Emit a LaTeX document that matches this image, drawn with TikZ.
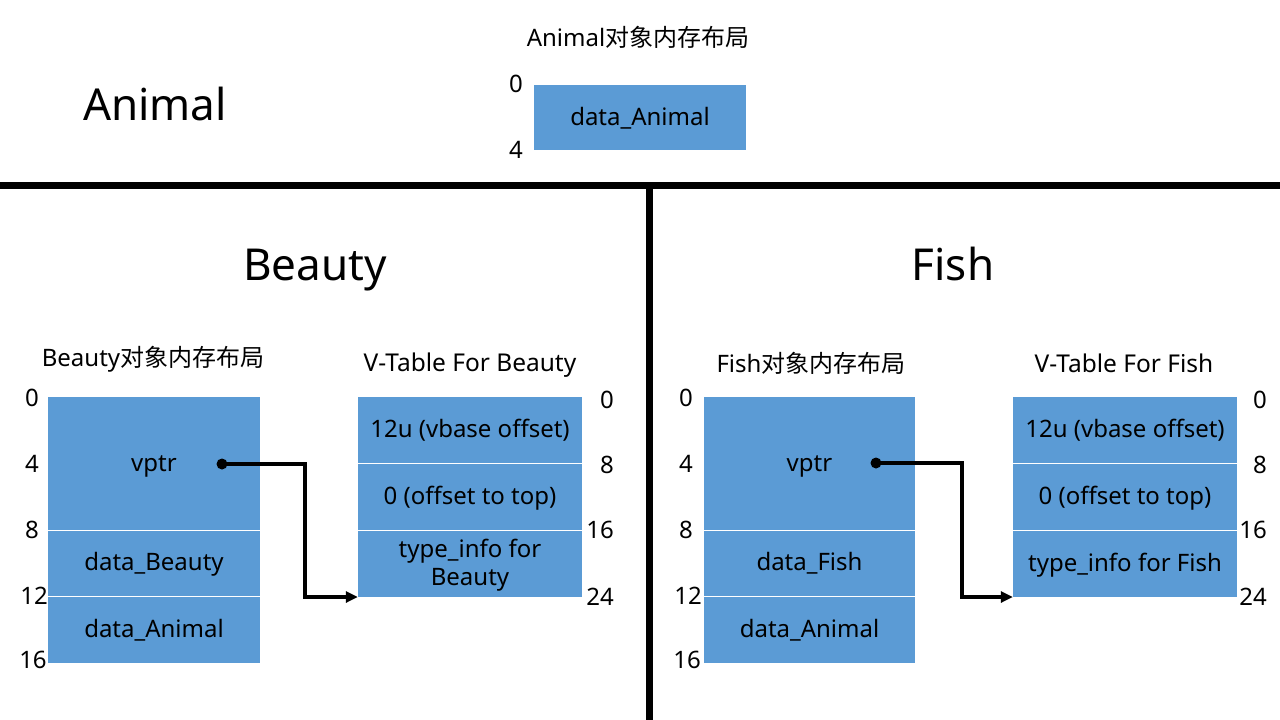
\documentclass[tikz,border=0pt]{standalone}
\usepackage{fontspec}
\setmainfont{Noto Sans}
\newfontfamily\cjk{Noto Sans CJK SC}
\usetikzlibrary{arrows.meta}
\definecolor{cellblue}{HTML}{5B9BD5}
\begin{document}
\begin{tikzpicture}[x=1pt,y=-1pt,
  cell/.style={fill=cellblue, inner sep=0pt, align=center, text height=17pt, text depth=2pt, font=\fontsize{24}{28}\selectfont},
  sep/.style={draw=white, line width=1.2pt},
  lbl/.style={inner sep=0pt, font=\fontsize{24}{28}\selectfont},
  big/.style={inner sep=0pt, anchor=base, font=\fontsize{44}{50}\selectfont},
  wall/.style={line width=7pt, black},
  ptr/.style={line width=3.3pt, -{Triangle[length=12pt,width=11pt]}},
  dotn/.style={circle, fill=black, minimum size=11pt, inner sep=0pt}]
\useasboundingbox (0,0) rectangle (1280,720);
\fill[white] (0,0) rectangle (1280,720);
% walls
\coordinate (wl) at (0,185.5);
\coordinate (wr) at (1280,185.5);
\coordinate (wt) at (649,185.5);
\coordinate (wb) at (649,720);
\draw[wall] (wl) -- (wr);
\draw[wall] (wt) -- (wb);
% Animal
\node[big] (tAnimal) at (155,120) {Animal};
\node[lbl] (tAnimalMem) at (638,37) {Animal\cjk 对象内存布局};
\node[cell, minimum width=212pt, minimum height=65pt] (aA) at (640,117.5) {data\_Animal};
\node[lbl] (a0) at (516,84) {0};
\node[lbl] (a4) at (516,150) {4};
% Beauty
\node[big] (tBeauty) at (315,280) {Beauty};
\node[lbl] (tBMem) at (153,359) {Beauty\cjk 对象内存布局};
\node[cell, minimum width=212pt, minimum height=133pt] (b1) at (154,463.5) {vptr};
\node[cell, minimum width=212pt, minimum height=66pt, anchor=north] (b2) at (b1.south) {data\_Beauty};
\node[cell, minimum width=212pt, minimum height=66pt, anchor=north] (b3) at (b2.south) {data\_Animal};
\draw[sep] (b1.south west) -- (b1.south east);
\draw[sep] (b2.south west) -- (b2.south east);
\node[lbl] (bl0) at (32,398) {0};
\node[lbl] (bl4) at (32,464) {4};
\node[lbl] (bl8) at (32,530) {8};
\node[lbl] (bl12) at (34,596) {12};
\node[lbl] (bl16) at (33,660) {16};
\node[lbl, font=\fontsize{24.5}{28}\selectfont] (tBVT) at (470,365) {V-Table For Beauty};
\node[cell, minimum width=224pt, minimum height=66pt] (bv1) at (470,430) {12u (vbase offset)};
\node[cell, minimum width=224pt, minimum height=67pt, anchor=north] (bv2) at (bv1.south) {0 (offset to top)};
\node[cell, minimum width=224pt, minimum height=66pt, anchor=north, text height=45pt] (bv3) at (bv2.south) {type\_info for\\Beauty};
\draw[sep] (bv1.south west) -- (bv1.south east);
\draw[sep] (bv2.south west) -- (bv2.south east);
\node[lbl, anchor=east] (br0) at (614,400) {0};
\node[lbl, anchor=east] (br8) at (614,465) {8};
\node[lbl, anchor=east] (br16) at (614,530) {16};
\node[lbl, anchor=east] (br24) at (614,597) {24};
\node[dotn] (bdot) at (222,464) {};
\draw[ptr] (bdot.center) -- ++(83,0) |- (bv3.south west);
% Fish
\node[big] (tFish) at (953,280) {Fish};
\node[lbl] (tFMem) at (811,363) {Fish\cjk 对象内存布局};
\node[cell, minimum width=211pt, minimum height=133pt] (f1) at (809.5,463.5) {vptr};
\node[cell, minimum width=211pt, minimum height=66pt, anchor=north] (f2) at (f1.south) {data\_Fish};
\node[cell, minimum width=211pt, minimum height=66pt, anchor=north] (f3) at (f2.south) {data\_Animal};
\draw[sep] (f1.south west) -- (f1.south east);
\draw[sep] (f2.south west) -- (f2.south east);
\node[lbl] (fl0) at (686,398) {0};
\node[lbl] (fl4) at (686,464) {4};
\node[lbl] (fl8) at (686,530) {8};
\node[lbl] (fl12) at (688,596) {12};
\node[lbl] (fl16) at (687,660) {16};
\node[lbl, font=\fontsize{24.5}{28}\selectfont] (tFVT) at (1124,363) {V-Table For Fish};
\node[cell, minimum width=224pt, minimum height=66pt] (fv1) at (1125,430) {12u (vbase offset)};
\node[cell, minimum width=224pt, minimum height=67pt, anchor=north] (fv2) at (fv1.south) {0 (offset to top)};
\node[cell, minimum width=224pt, minimum height=66pt, anchor=north] (fv3) at (fv2.south) {type\_info for Fish};
\draw[sep] (fv1.south west) -- (fv1.south east);
\draw[sep] (fv2.south west) -- (fv2.south east);
\node[lbl, anchor=east] (fr0) at (1267,400) {0};
\node[lbl, anchor=east] (fr8) at (1267,465) {8};
\node[lbl, anchor=east] (fr16) at (1267,530) {16};
\node[lbl, anchor=east] (fr24) at (1267,597) {24};
\node[dotn] (fdot) at (876,463) {};
\draw[ptr] (fdot.center) -- ++(86,0) |- (fv3.south west);
\end{tikzpicture}
\end{document}
